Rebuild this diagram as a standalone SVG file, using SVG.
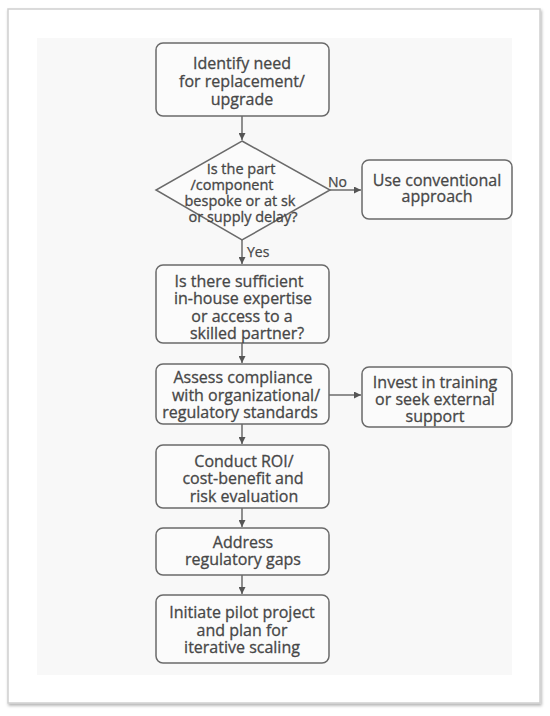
<svg xmlns="http://www.w3.org/2000/svg" width="550" height="716" viewBox="0 0 550 716">
<defs>
<filter id="sh" x="-5%" y="-5%" width="110%" height="110%">
<feDropShadow dx="1" dy="2" stdDeviation="1.8" flood-color="#000" flood-opacity="0.3"/>
</filter>
<marker id="ah" viewBox="0 0 10 10" refX="10" refY="5" markerWidth="7" markerHeight="7" markerUnits="userSpaceOnUse" orient="auto">
<path d="M0,0 L10,5 L0,10 z" fill="#555"/>
</marker>
</defs>
<style>
.box{fill:#fbfbfb;stroke:#6a6a6a;stroke-width:1.5}
.t{font-family:"Open Sans","Liberation Sans",sans-serif;font-size:16px;fill:#474747;stroke:#474747;stroke-width:0.3;text-anchor:middle}
.s{font-size:14.5px}
.lbl{font-family:"Open Sans","Liberation Sans",sans-serif;font-size:14px;fill:#474747;stroke:#474747;stroke-width:0.25}
.c{stroke:#555;stroke-width:1.3;fill:none;marker-end:url(#ah)}
</style>
<rect x="0" y="0" width="550" height="716" fill="#ffffff"/>
<rect x="8" y="9" width="532" height="694" fill="#ffffff" stroke="#cfcfcf" stroke-width="1.5" filter="url(#sh)"/>
<rect x="37" y="38" width="475" height="637" fill="#f8f8f8"/>

<g id="connectors">
<line class="c" x1="242" y1="116" x2="242" y2="140"/>
<line class="c" x1="330" y1="190" x2="361" y2="190"/>
<line class="c" x1="242" y1="240" x2="242" y2="264"/>
<line class="c" x1="242" y1="343" x2="242" y2="363"/>
<line class="c" x1="329" y1="395" x2="361" y2="395"/>
<line class="c" x1="242" y1="424" x2="242" y2="444"/>
<line class="c" x1="242" y1="508" x2="242" y2="527"/>
<line class="c" x1="242" y1="575" x2="242" y2="594"/>
<text class="lbl" x="328" y="187">No</text>
<text class="lbl" x="247" y="257">Yes</text>
</g>

<g id="n1">
<rect class="box" x="156" y="43" width="173" height="73" rx="7"/>
<text class="t"><tspan x="242" y="69">Identify need</tspan><tspan x="242" y="87">for replacement/</tspan><tspan x="242" y="105">upgrade</tspan></text>
</g>

<g id="n2">
<polygon class="box" points="242,141 330,190 242,240 156,190"/>
<text class="t s"><tspan x="241" y="174">Is the part</tspan><tspan x="232" y="190">/component</tspan><tspan x="240" y="206">bespoke or at sk</tspan><tspan x="243" y="222">or supply delay?</tspan></text>
</g>

<g id="n3">
<rect class="box" x="362" y="160" width="150" height="59" rx="7"/>
<text class="t"><tspan x="437" y="186">Use conventional</tspan><tspan x="437" y="202">approach</tspan></text>
</g>

<g id="n4">
<rect class="box" x="156" y="265" width="173" height="78" rx="7"/>
<text class="t"><tspan x="239" y="287">Is there sufficient</tspan><tspan x="243" y="304">in-house expertise</tspan><tspan x="242" y="322">or access to a</tspan><tspan x="247" y="339">skilled partner?</tspan></text>
</g>

<g id="n5">
<rect class="box" x="156" y="364" width="173" height="60" rx="7"/>
<text class="t"><tspan x="243" y="383">Assess compliance</tspan><tspan x="246" y="401">with organizational/</tspan><tspan x="240" y="418">regulatory standards</tspan></text>
</g>

<g id="n6">
<rect class="box" x="362" y="367" width="150" height="60" rx="7"/>
<text class="t"><tspan x="435" y="388">Invest in training</tspan><tspan x="435" y="405">or seek external</tspan><tspan x="435" y="422">support</tspan></text>
</g>

<g id="n7">
<rect class="box" x="156" y="445" width="173" height="63" rx="7"/>
<text class="t"><tspan x="244" y="467">Conduct ROI/</tspan><tspan x="243" y="484">cost-benefit  and</tspan><tspan x="244" y="502">risk evaluation</tspan></text>
</g>

<g id="n8">
<rect class="box" x="156" y="528" width="173" height="47" rx="7"/>
<text class="t"><tspan x="243" y="548">Address</tspan><tspan x="243" y="565">regulatory gaps</tspan></text>
</g>

<g id="n9">
<rect class="box" x="156" y="595" width="173" height="68" rx="7"/>
<text class="t"><tspan x="242" y="618">Initiate pilot project</tspan><tspan x="242" y="636">and plan for</tspan><tspan x="242" y="653">iterative scaling</tspan></text>
</g>
</svg>
